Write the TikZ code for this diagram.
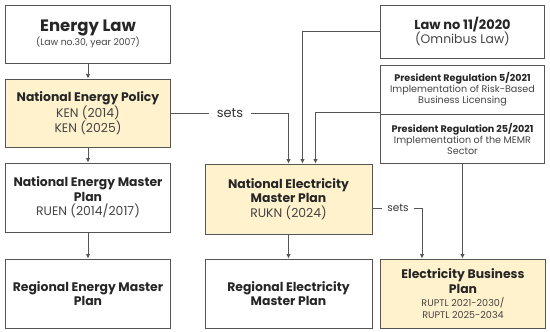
\documentclass[tikz,border=0pt]{standalone}
\usepackage{fontspec}
\setmainfont{Poppins}
\usetikzlibrary{arrows.meta,calc}
\definecolor{boxline}{HTML}{555555}
\definecolor{planfill}{HTML}{FFF2CC}
\definecolor{subtext}{HTML}{444444}
\begin{document}
\begin{tikzpicture}[x=1pt,y=-1pt,
  box/.style={draw=boxline,line width=0.9pt,align=center,text=black!85,inner sep=2pt,
    font=\fontsize{12.4}{14.5}\selectfont},
  planbox/.style={box,fill=planfill},
  link/.style={draw=boxline,line width=0.8pt},
  arr/.style={link,-{Latex[length=4.5pt,width=4.5pt]}},
  setlabel/.style={inner xsep=8pt,inner ysep=0pt,text=black!80,font=\fontsize{13}{15}\selectfont}]
  \useasboundingbox (0,0) rectangle (550,332);
  % energy side
  \node[box,minimum width=165,minimum height=58] (law) at (88,34)
    {{\fontsize{16.5}{19}\selectfont\bfseries Energy Law}\\
     {\fontsize{9.3}{11}\selectfont\color{subtext}(Law no.30, year 2007)}};
  \node[planbox,minimum width=165,minimum height=68] (ken) at (88,113)
    {\textbf{National Energy Policy}\\ \color{subtext}KEN (2014)\\ \color{subtext}KEN (2025)};
  \node[box,minimum width=165,minimum height=69] (ruen) at (88,197.5)
    {\textbf{National Energy Master}\\ \textbf{Plan}\\ \color{subtext}RUEN (2014/2017)};
  \node[box,minimum width=165,minimum height=69] (regen) at (88,293.5)
    {\textbf{Regional Energy Master}\\ \textbf{Plan}};
  % electricity side
  \node[planbox,minimum width=167,minimum height=70] (rukn) at (288.5,199)
    {\textbf{National Electricity}\\ \textbf{Master Plan}\\ \color{subtext}RUKN (2024)};
  \node[box,minimum width=167,minimum height=69] (regel) at (288.5,293.5)
    {\textbf{Regional Electricity}\\ \textbf{Master Plan}};
  % laws and regulations
  \node[box,minimum width=164,minimum height=53] (omni) at (462.5,31.5)
    {{\fontsize{13}{15}\selectfont\bfseries Law no 11/2020}\\[-1pt] \color{subtext}(Omnibus Law)};
  \node[box,minimum width=164,minimum height=49,font=\fontsize{9.6}{11}\selectfont] (pr5) at (462.5,89.5)
    {\textbf{President Regulation 5/2021}\\ \color{subtext}Implementation of Risk-Based\\ \color{subtext}Business Licensing};
  \node[box,minimum width=164,minimum height=49,font=\fontsize{9.6}{11}\selectfont] (pr25) at (462.5,138.5)
    {\textbf{President Regulation 25/2021}\\ \color{subtext}Implementation of the MEMR\\ \color{subtext}Sector};
  \node[planbox,minimum width=165,minimum height=69] (rupt) at (463,293.5)
    {\textbf{Electricity Business}\\ \textbf{Plan}\\[-1pt]
     {\fontsize{9.6}{11}\selectfont\color{subtext}RUPTL 2021-2030/}\\[-3pt]
     {\fontsize{9.6}{11}\selectfont\color{subtext}RUPTL 2025-2034}};
  % connectors
  \draw[arr] (law) -- (ken);
  \draw[arr] (ken) -- (ruen);
  \draw[arr] (ruen) -- (regen);
  \draw[arr] (rukn) -- (regel);
  \node[setlabel] (sets1) at (230,113) {sets};
  \draw[link] (ken) -- (sets1);
  \draw[arr] (sets1) -| (rukn.north);
  \coordinate (omniin) at ($(rukn.north)+(14,0)$);
  \draw[arr] (omni) -| (omniin);
  \coordinate (prout) at ($(pr5.south west)+(0,-2)$);
  \coordinate (prin) at ($(rukn.north)+(27,0)$);
  \draw[arr] (prout) -| (prin);
  \draw[arr] (pr25) -- (pr25 |- rupt.north);
  \node[setlabel,inner xsep=5pt,font=\fontsize{10.5}{12}\selectfont] (sets2) at (398,208) {sets};
  \draw[link] (rukn.east |- sets2) -- (sets2);
  \coordinate (ruptin) at ($(rupt.north)+(-41,0)$);
  \draw[arr] (sets2) -| (ruptin);
\end{tikzpicture}
\end{document}
